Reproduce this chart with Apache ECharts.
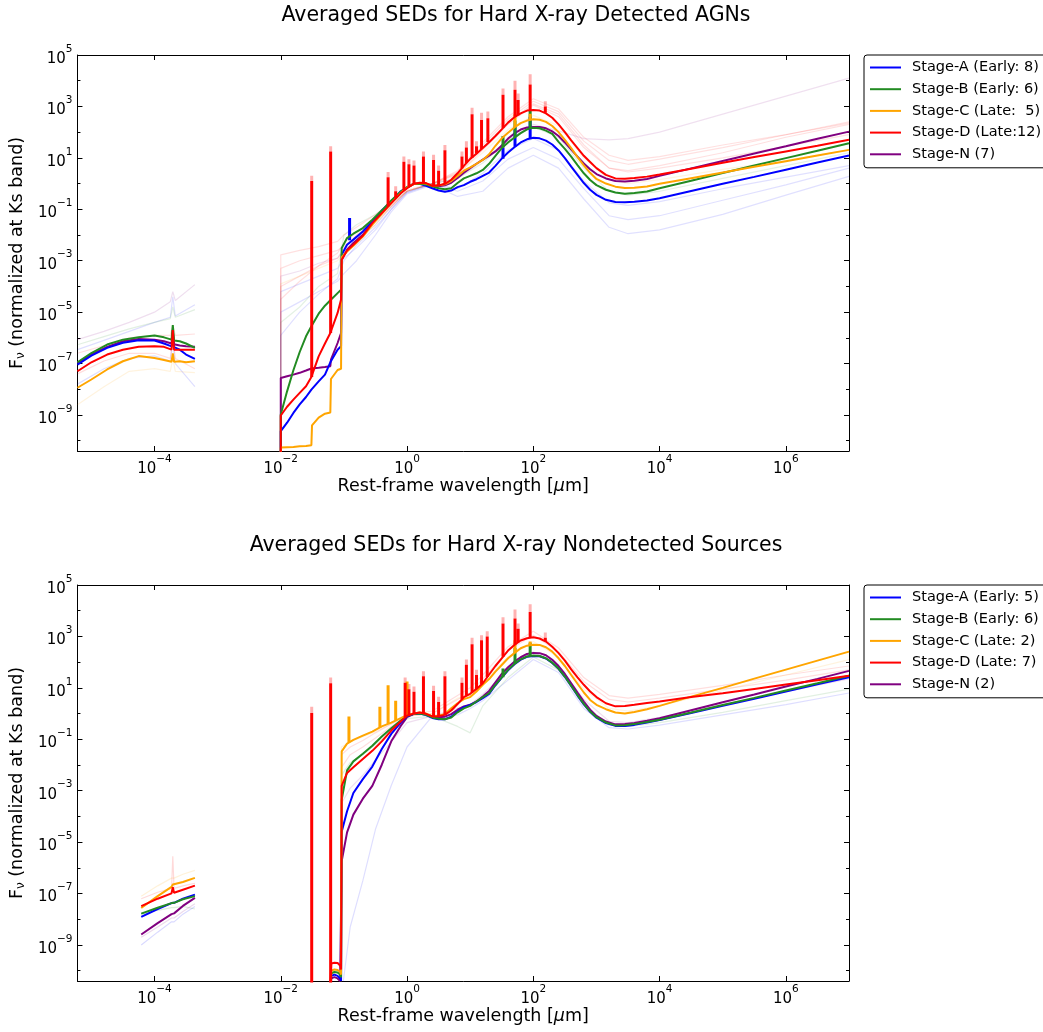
<!DOCTYPE html>
<html><head><meta charset="utf-8">
<script src="https://cdn.jsdelivr.net/npm/echarts@6/dist/echarts.min.js"></script>
<style>html,body{margin:0;padding:0;background:#fff}#c{width:1043px;height:1032px}</style>
</head><body><div id="c"></div>
<script>
// ---------- axis ticks (log10 exponents) ----------
const xTickValues = [-4, -2, 0, 2, 4, 6];
const yMajorTicks = [-9, -7, -5, -3, -1, 1, 3, 5];
const yMinorTicks = [-10, -8, -6, -4, -2, 0, 2, 4];

// ---------- names ----------
const namesTop = ['Stage-A (Early: 8)', 'Stage-B (Early: 6)', 'Stage-C (Late:  5)', 'Stage-D (Late:12)', 'Stage-N (7)'];
const namesBot = ['Stage-A (Early: 5)', 'Stage-B (Early: 6)', 'Stage-C (Late: 2)', 'Stage-D (Late: 7)', 'Stage-N (2)'];
const stageColors = ['#0000ff', '#228b22', '#ffa500', '#ff0000', '#800080'];

// ---------- wavelength grids (log10 of micron) ----------
const xrayLamTop = [-5.22, -5.0, -4.75, -4.5, -4.25, -4.0, -3.85, -3.73, -3.71, -3.69, -3.6, -3.5, -3.36];
const xrayLamBot = [-4.21, -3.95, -3.73, -3.71, -3.69, -3.55, -3.36];
const uvLamTop = [-2.0, -2.0, -1.9, -1.8, -1.7, -1.6, -1.515, -1.505, -1.4, -1.3, -1.215, -1.205, -1.1, -1.045, -1.035, -0.95, -0.85, -0.7, -0.55, -0.4, -0.25, -0.1, 0.0];
const uvLamBot = [-1.22, -1.2, -1.15, -1.1, -1.06, -1.045, -1.035, -0.95, -0.85, -0.7, -0.55, -0.4, -0.25, -0.1, 0.0];
const irLam = [0.1, 0.2, 0.3, 0.4, 0.5, 0.6, 0.7, 0.8, 0.9, 1.0, 1.1, 1.2, 1.3, 1.4, 1.5, 1.6, 1.7, 1.8, 1.9, 2.0, 2.1, 2.2, 2.3, 2.4, 2.5, 2.6, 2.7, 2.8, 2.9, 3.0, 3.15, 3.3, 3.45, 3.6, 3.8, 4.0, 4.5, 5.0, 5.5, 6.0, 6.5, 7.0];

// ---------- TOP panel: averaged SEDs (log10 F_nu) ----------
const topA_xray = [-7.04, -6.69, -6.39, -6.19, -6.09, -6.1, -6.22, -6.33, -5.9, -6.36, -6.46, -6.65, -6.82];
const topB_xray = [-6.95, -6.59, -6.26, -6.07, -5.98, -5.91, -5.98, -6.07, -5.5, -6.1, -6.13, -6.22, -6.39];
const topC_xray = [-7.94, -7.62, -7.23, -6.91, -6.71, -6.78, -6.86, -6.93, -6.6, -6.93, -6.91, -6.95, -6.91];
const topD_xray = [-7.3, -6.95, -6.65, -6.46, -6.35, -6.33, -6.35, -6.46, -5.7, -6.46, -6.46, -6.46, -6.46];
const topN_xray = [-6.97, -6.65, -6.35, -6.13, -6.04, -6.07, -6.13, -6.22, -5.7, -6.25, -6.3, -6.33, -6.35];

const topA_uv = [-11, -9.63, -9.3, -8.92, -8.59, -8.3, -8.01, -8.01, -7.69, -7.43, -6.95, -6.91, -6.46, -6.33, -2.77, -2.38, -2.18, -1.86, -1.47, -1.05, -0.7, -0.3, -0.15];
const topB_uv = [-11, -8.98, -8.08, -7.26, -6.55, -5.94, -5.55, -5.55, -5.06, -4.75, -4.54, -4.54, -4.26, -4.13, -2.51, -2.12, -1.95, -1.73, -1.41, -1.05, -0.66, -0.32, -0.14];
const topC_uv = [-11, -10.26, -10.25, -10.24, -10.22, -10.21, -10.18, -9.4, -9.1, -8.95, -8.9, -7.6, -7.25, -7.2, -2.86, -2.64, -2.42, -2.06, -1.6, -1.18, -0.76, -0.36, -0.16];
const topD_uv = [-11, -9.02, -8.68, -8.4, -8.14, -7.88, -7.52, -7.52, -6.72, -6.22, -5.81, -5.81, -5.03, -4.51, -2.96, -2.6, -2.38, -2.03, -1.54, -1.15, -0.76, -0.38, -0.18];
const topN_uv = [-11, -7.56, -7.49, -7.43, -7.36, -7.27, -7.19, -7.19, -7.16, -7.13, -7.1, -6.85, -6.2, -5.81, -2.96, -2.57, -2.31, -1.99, -1.51, -1.12, -0.74, -0.35, -0.16];

const topA_ir = [-0.01, -0.01, -0.09, -0.18, -0.27, -0.32, -0.27, -0.14, -0.06, 0.07, 0.17, 0.3, 0.43, 0.69, 0.97, 1.21, 1.41, 1.6, 1.72, 1.78, 1.76, 1.67, 1.52, 1.29, 0.99, 0.66, 0.34, 0.02, -0.24, -0.44, -0.63, -0.72, -0.73, -0.71, -0.66, -0.57, -0.29, -0.01, 0.26, 0.54, 0.82, 1.09];
const topB_ir = [-0.02, -0.01, -0.04, -0.11, -0.18, -0.22, -0.18, 0.02, 0.2, 0.3, 0.4, 0.53, 0.77, 1.08, 1.38, 1.6, 1.78, 1.96, 2.11, 2.17, 2.15, 2.06, 1.93, 1.62, 1.35, 1.05, 0.72, 0.4, 0.14, -0.06, -0.24, -0.35, -0.4, -0.37, -0.31, -0.18, 0.11, 0.41, 0.7, 0.99, 1.28, 1.57];
const topC_ir = [-0.02, 0.02, 0.0, -0.08, -0.07, -0.03, 0.1, 0.3, 0.5, 0.63, 0.77, 0.92, 1.14, 1.47, 1.76, 1.98, 2.18, 2.35, 2.45, 2.5, 2.48, 2.4, 2.24, 2.0, 1.7, 1.38, 1.03, 0.71, 0.42, 0.18, 0.0, -0.12, -0.17, -0.16, -0.11, -0.01, 0.21, 0.43, 0.65, 0.87, 1.09, 1.31];
const topD_ir = [-0.02, 0.03, 0.02, -0.09, -0.07, -0.01, 0.15, 0.4, 0.69, 0.96, 1.16, 1.38, 1.61, 1.85, 2.11, 2.37, 2.58, 2.73, 2.84, 2.86, 2.84, 2.73, 2.56, 2.3, 2.0, 1.68, 1.38, 1.08, 0.84, 0.6, 0.34, 0.2, 0.19, 0.22, 0.27, 0.35, 0.58, 0.81, 1.03, 1.25, 1.47, 1.7];
const topN_ir = [-0.02, 0.02, 0.0, -0.09, -0.1, -0.07, 0.03, 0.22, 0.42, 0.6, 0.77, 0.93, 1.09, 1.25, 1.48, 1.75, 1.95, 2.1, 2.18, 2.2, 2.2, 2.15, 2.03, 1.85, 1.6, 1.32, 1.05, 0.78, 0.56, 0.37, 0.2, 0.1, 0.08, 0.11, 0.18, 0.3, 0.59, 0.88, 1.17, 1.45, 1.74, 2.02];

// emission lines, top panel
const topD_lineLam  = [-1.51, -1.21, -0.30, -0.18, -0.05, 0.03, 0.11, 0.26, 0.42, 0.50, 0.60, 0.87, 0.94, 1.03, 1.10, 1.18, 1.28, 1.52, 1.71, 1.76, 1.95, 2.19];
const topD_lineBase = [-7.52, -5.81, -0.88, -0.55, -0.25, -0.1, -0.02, 0.03, -0.09, -0.07, -0.01, 0.6, 0.8, 1.0, 1.16, 1.34, 1.61, 2.16, 2.6, 2.66, 2.85, 2.75];
const topD_linePeak = [0.1, 1.25, 0.25, -0.3, 0.85, 0.75, 0.7, 1.05, 0.92, 0.5, 1.3, 1.05, 1.4, 2.7, 1.45, 2.47, 2.54, 3.45, 3.65, 3.25, 3.85, 3.0];
const topD_lineTip  = [0.3, 1.45, 0.45, -0.1, 1.05, 0.95, 0.9, 1.25, 1.12, 0.7, 1.5, 1.25, 1.65, 2.95, 1.65, 2.75, 2.8, 3.7, 4.0, 3.5, 4.25, 3.2];
const topA_lineLam = [-0.91, 1.52, 1.71, 1.95];
const topA_lineBase = [-2.2, 0.97, 1.43, 1.75];
const topA_linePeak = [-1.34, 1.4, 2.2, 2.6];
const topB_lineLam = [1.52, 1.71, 1.95];
const topB_lineBase = [1.4, 1.8, 2.14];
const topB_linePeak = [1.85, 2.45, 2.85];
const topC_lineLam = [1.71, 1.95];
const topC_lineBase = [2.2, 2.48];
const topC_linePeak = [2.7, 2.72];

// ---------- BOTTOM panel ----------
const botA_xray = [-7.91, -7.6, -7.37, -7.3, -7.36, -7.2, -7.04];
const botB_xray = [-7.78, -7.55, -7.37, -7.3, -7.36, -7.22, -7.1];
const botC_xray = [-7.56, -7.1, -6.74, -6.65, -6.72, -6.55, -6.39];
const botD_xray = [-7.49, -7.2, -6.99, -6.75, -6.97, -6.85, -6.69];
const botN_xray = [-8.59, -8.15, -7.8, -7.75, -7.77, -7.48, -7.17];

const botA_uv = [-11, -10.2, -10.15, -10.2, -10.3, -10.4, -4.6, -3.8, -3.09, -2.55, -2.06, -1.38, -0.79, -0.35, -0.1];
const botB_uv = [-11, -10.1, -10.05, -10.07, -10.15, -10.25, -3.35, -2.21, -1.86, -1.56, -1.25, -0.89, -0.57, -0.27, -0.08];
const botC_uv = [-11, -10.0, -9.95, -9.97, -10.05, -10.15, -1.47, -1.17, -1.02, -0.86, -0.7, -0.5, -0.35, -0.18, -0.06];
const botD_uv = [-11, -9.72, -9.69, -9.7, -9.8, -9.95, -2.81, -2.31, -2.09, -1.77, -1.45, -1.08, -0.66, -0.31, -0.08];
const botN_uv = [-11, -10.3, -10.25, -10.3, -10.4, -10.45, -5.74, -4.62, -3.93, -3.31, -2.81, -1.99, -1.08, -0.48, -0.14];

const botA_ir = [-0.02, 0.0, -0.06, -0.17, -0.22, -0.22, -0.12, 0.08, 0.25, 0.34, 0.45, 0.6, 0.76, 1.1, 1.4, 1.68, 1.92, 2.1, 2.21, 2.24, 2.23, 2.14, 1.97, 1.74, 1.43, 1.07, 0.7, 0.36, 0.07, -0.16, -0.37, -0.48, -0.48, -0.44, -0.35, -0.25, 0.02, 0.3, 0.58, 0.86, 1.14, 1.41];
const botB_ir = [-0.02, 0.0, -0.05, -0.15, -0.2, -0.22, -0.15, 0.05, 0.2, 0.3, 0.47, 0.64, 0.79, 1.12, 1.41, 1.7, 1.93, 2.11, 2.22, 2.26, 2.24, 2.15, 1.98, 1.75, 1.44, 1.08, 0.72, 0.38, 0.08, -0.14, -0.35, -0.46, -0.45, -0.41, -0.33, -0.24, 0.04, 0.33, 0.61, 0.9, 1.18, 1.47];
const botC_ir = [0.0, 0.04, 0.0, -0.1, -0.08, -0.02, 0.21, 0.4, 0.56, 0.64, 0.86, 1.12, 1.34, 1.63, 1.89, 2.15, 2.35, 2.54, 2.64, 2.68, 2.67, 2.58, 2.41, 2.15, 1.85, 1.5, 1.16, 0.82, 0.53, 0.34, 0.17, 0.04, 0.0, 0.06, 0.17, 0.3, 0.66, 1.0, 1.36, 1.71, 2.06, 2.41];
const botD_ir = [-0.01, 0.04, -0.01, -0.11, -0.1, -0.05, 0.12, 0.37, 0.64, 0.77, 0.96, 1.18, 1.52, 1.85, 2.15, 2.45, 2.67, 2.84, 2.93, 2.97, 2.92, 2.8, 2.6, 2.35, 2.06, 1.72, 1.41, 1.12, 0.86, 0.64, 0.4, 0.28, 0.29, 0.34, 0.41, 0.47, 0.64, 0.79, 0.96, 1.13, 1.3, 1.47];
const botN_ir = [-0.02, 0.02, -0.02, -0.12, -0.14, -0.12, -0.02, 0.15, 0.28, 0.34, 0.47, 0.66, 0.88, 1.21, 1.54, 1.8, 2.02, 2.19, 2.32, 2.36, 2.35, 2.27, 2.09, 1.85, 1.54, 1.18, 0.82, 0.47, 0.15, -0.09, -0.31, -0.42, -0.41, -0.37, -0.28, -0.18, 0.13, 0.44, 0.74, 1.05, 1.35, 1.66];

const botD_lineLam  = [-1.51, -1.21, -0.03, 0.03, 0.11, 0.26, 0.42, 0.50, 0.60, 0.87, 0.94, 1.03, 1.10, 1.18, 1.27, 1.52, 1.71, 1.76, 1.95, 2.19];
const botD_lineBase = [-11, -11, -0.14, -0.08, -0.01, 0.01, -0.11, -0.1, -0.05, 0.56, 0.69, 0.83, 0.96, 1.14, 1.42, 2.21, 2.69, 2.77, 2.95, 2.81];
const botD_linePeak = [0.02, 1.18, 1.2, 0.95, 0.85, 1.45, 0.88, 0.45, 1.45, 1.2, 1.9, 2.7, 1.5, 2.85, 3.0, 3.5, 3.7, 3.3, 3.95, 2.95];
const botD_lineTip  = [0.27, 1.4, 1.4, 1.15, 1.05, 1.65, 1.08, 0.65, 1.65, 1.4, 2.1, 2.95, 1.7, 3.05, 3.2, 3.75, 4.05, 3.5, 4.25, 3.15];
const botB_lineLam = [1.52, 1.71, 1.95];
const botB_lineBase = [1.41, 1.93, 2.24];
const botB_linePeak = [1.75, 2.55, 2.75];
const botC_lineLam = [-0.92, -0.43, -0.30, -0.18, 0.0, 1.71, 1.95];
const botC_lineBase = [-1.12, -0.55, -0.4, -0.27, -0.09, 2.37, 2.66];
const botC_linePeak = [-0.11, 0.27, 1.1, 0.5, 1.25, 2.85, 2.8];

// ---------- individual (faint) SEDs ----------
const faintXrayLamTop = [-5.22, -4.8, -4.4, -4.0, -3.75, -3.71, -3.67, -3.36];
const faintXrayTop1 = [-6.07, -5.75, -5.4, -5.0, -4.6, -4.2, -4.55, -3.93];
const faintXrayTop2 = [-6.46, -6.1, -5.75, -5.4, -5.2, -4.4, -5.15, -4.71];
const faintXrayTop3 = [-6.27, -5.95, -5.65, -5.4, -5.25, -4.8, -5.2, -4.9];
const faintXrayTop4 = [-7.4, -6.9, -6.6, -6.6, -6.8, -6.0, -6.8, -7.2];
const faintXrayTop5 = [-8.6, -7.9, -7.3, -7.2, -7.3, -6.8, -7.3, -7.35];
const faintXrayTop6 = [-7.8, -7.2, -6.8, -6.7, -6.9, -6.2, -7.0, -7.9];
const faintXrayTop7 = [-6.6, -6.3, -6.0, -5.9, -5.9, -5.5, -5.9, -5.85];
const faintXrayTopColors = ['#800080', '#0000ff', '#228b22', '#ff0000', '#ffa500', '#0000ff', '#ff0000'];

const faintLamTop = [-2.0, -2.0, -1.7, -1.4, -1.1, -1.0, -0.8, -0.5, -0.25, 0.0, 0.4, 0.8, 1.2, 1.6, 2.0, 2.4, 2.8, 3.2, 3.5, 4.0, 5.0, 6.0, 7.0];
const faintTop1 = [-11, -2.77, -2.6, -2.45, -2.25, -2.0, -1.7, -1.2, -0.7, -0.25, 0.0, 0.5, 1.6, 2.6, 3.3, 2.9, 1.8, 1.1, 0.9, 1.05, 1.5, 1.9, 2.35];
const faintTop2 = [-11, -4.5, -3.8, -3.2, -2.7, -2.3, -1.9, -1.35, -0.8, -0.3, 0.0, 0.35, 1.3, 2.3, 3.05, 2.6, 1.4, 0.6, 0.45, 0.6, 1.0, 1.45, 1.9];
const faintTop3 = [-11, -3.3, -3.0, -2.8, -2.6, -2.4, -2.1, -1.5, -0.9, -0.3, 0.0, 0.4, 1.4, 2.4, 3.1, 2.7, 1.5, 0.6, 0.5, 0.7, 1.2, 1.8, 2.3];
const faintTop4 = [-11, -3.6, -3.4, -3.1, -2.9, -2.6, -2.2, -1.6, -0.9, -0.3, 0.0, 0.2, 0.9, 1.7, 2.3, 2.05, 1.75, 1.7, 1.75, 2.0, 2.7, 3.4, 4.1];
const faintTop5 = [-11, -5.0, -4.6, -4.2, -3.8, -3.5, -3.0, -2.0, -1.1, -0.4, -0.05, -0.5, -0.3, 0.6, 1.1, 0.6, -0.6, -1.7, -1.95, -1.8, -1.2, -0.45, 0.28];
const faintTop6 = [-11, -4.2, -3.9, -3.6, -3.3, -2.9, -2.5, -1.8, -1.0, -0.35, 0.0, -0.3, 0.1, 0.95, 1.4, 0.95, -0.2, -1.25, -1.4, -1.25, -0.65, -0.05, 0.6];
const faintTop7 = [-11, -5.4, -4.8, -4.0, -3.5, -2.0, -1.6, -1.2, -0.75, -0.3, 0.0, 0.2, 0.8, 1.7, 2.2, 1.8, 0.6, -0.3, -0.45, -0.3, 0.2, 0.7, 1.2];
const faintTop8 = [-11, -3.9, -3.6, -3.3, -3.0, -2.7, -2.3, -1.6, -0.9, -0.3, 0.0, 0.4, 1.2, 2.1, 2.65, 2.25, 1.0, 0.15, 0.0, 0.15, 0.55, 0.9, 1.3];
const faintTop9 = [-11, -5.9, -5.0, -4.3, -3.7, -3.0, -2.4, -1.7, -1.0, -0.35, 0.0, -0.2, 0.4, 1.3, 1.75, 1.3, 0.1, -0.75, -0.85, -0.7, -0.2, 0.25, 0.7];
const faintTop10 = [-11, -4.0, -3.6, -3.2, -2.9, -2.5, -2.0, -1.4, -0.85, -0.3, 0.0, 0.45, 1.5, 2.5, 3.2, 2.8, 1.65, 0.9, 0.75, 0.95, 1.4, 1.9, 2.4];
const faintTopColors = ['#ff0000', '#ff0000', '#ff0000', '#800080', '#0000ff', '#0000ff', '#228b22', '#ffa500', '#0000ff', '#ff0000'];

const faintXrayLamBot = [-4.21, -3.95, -3.73, -3.71, -3.69, -3.55, -3.36];
const faintXrayBot1 = [-7.1, -6.7, -6.4, -6.35, -6.4, -6.25, -6.1];
const faintXrayBot2 = [-7.2, -6.95, -6.8, -5.55, -6.8, -6.7, -6.6];
const faintXrayBot3 = [-7.8, -7.65, -7.55, -7.55, -7.55, -7.5, -7.6];
const faintXrayBot4 = [-9.0, -8.5, -8.1, -8.1, -8.1, -7.8, -7.5];
const faintXrayBot5 = [-8.7, -8.3, -7.95, -7.95, -7.95, -7.7, -7.4];
const faintXrayBotColors = ['#ffa500', '#ff0000', '#228b22', '#0000ff', '#800080'];

const faintLamBot = [-1.04, -1.04, -0.9, -0.7, -0.5, -0.25, 0.0, 0.4, 0.8, 1.0, 1.2, 1.6, 2.0, 2.4, 2.8, 3.2, 3.5, 4.0, 5.0, 6.0, 7.0];
const faintBot1 = [-11, -1.6, -1.3, -1.05, -0.75, -0.4, -0.05, 0.1, 0.7, 1.0, 1.5, 2.6, 3.2, 2.55, 1.4, 0.7, 0.6, 0.75, 1.1, 1.5, 1.85];
const faintBot2 = [-11, -2.1, -1.6, -1.3, -0.95, -0.5, -0.1, 0.0, 0.55, 0.8, 1.35, 2.45, 3.05, 2.4, 1.25, 0.55, 0.45, 0.6, 0.95, 1.3, 1.7];
const faintBot3 = [-11, -11, -8.3, -6.5, -4.5, -2.8, -1.3, -0.1, -0.05, 0.2, 0.5, 1.3, 2.1, 1.6, 0.2, -0.55, -0.6, -0.45, -0.05, 0.35, 0.8];
const faintBot4 = [-11, -2.4, -1.9, -1.6, -1.2, -0.7, -0.2, -0.1, -0.5, -0.75, 0.3, 1.4, 2.2, 1.7, 0.35, -0.45, -0.5, -0.35, 0.05, 0.5, 0.95];
const faintBot5 = [-11, -3.5, -2.9, -2.4, -1.8, -1.1, -0.35, -0.1, 0.2, 0.35, 0.75, 1.7, 2.4, 1.85, 0.55, -0.3, -0.35, -0.15, 0.35, 0.85, 1.35];
const faintBot6 = [-11, -1.3, -1.1, -0.9, -0.7, -0.4, -0.1, 0.0, 0.6, 0.7, 1.2, 2.2, 2.8, 2.2, 0.95, 0.2, 0.1, 0.3, 0.9, 1.5, 2.1];
const faintBotColors = ['#ff0000', '#ff0000', '#0000ff', '#228b22', '#800080', '#ffa500'];

// ---------- helpers ----------
const FONT = 'DejaVu Sans';
function pts(lam, val) { return lam.map((x, i) => [x, val[i]]); }
function spikePts(lam, base, peak) {
  const d = [];
  lam.forEach((x, i) => { d.push([x, base[i]], [x, peak[i]], [x, null]); });
  return d;
}
function line(name, data, color, width, xi, yi, opacity, z) {
  return {
    type: 'line', name: name, data: data, xAxisIndex: xi, yAxisIndex: yi,
    symbol: 'none', showSymbol: false, clip: true, connectNulls: false,
    lineStyle: { color: color, width: width, opacity: opacity },
    itemStyle: { color: color }, emphasis: { disabled: true }, silent: true,
    z: z, animation: false
  };
}
function supLabel(v) {
  const e = Math.round(v);
  const s = e < 0 ? '\u2212' + (-e) : String(e);
  return '{b|10}{s|' + s + '}';
}
const labelRich = {
  b: { fontSize: 15, fontFamily: FONT, color: '#000', lineHeight: 23, verticalAlign: 'bottom' },
  s: { fontSize: 10.5, fontFamily: FONT, color: '#000', lineHeight: 10, verticalAlign: 'top' }
};
const frame = { show: true, onZero: false, lineStyle: { color: '#000', width: 1 } };
const noLine = { show: false, onZero: false };

function makeAxes(gi) {
  const xs = [
    { type: 'value', gridIndex: gi, position: 'bottom', min: -5.22, max: 7,
      axisLine: frame, splitLine: { show: false },
      axisTick: { show: true, inside: true, length: 5, customValues: xTickValues, lineStyle: { color: '#000' } },
      axisLabel: { show: true, customValues: xTickValues, margin: 3, formatter: supLabel, rich: labelRich },
      name: 'Rest-frame wavelength [{i|\u03bc}m]', nameLocation: 'middle', nameGap: 26,
      nameTextStyle: { fontSize: 17.5, fontFamily: FONT, color: '#000',
        rich: { i: { fontSize: 17.5, fontFamily: FONT, fontStyle: 'italic', color: '#000' } } } },
    { type: 'value', gridIndex: gi, position: 'top', min: -5.22, max: 7,
      axisLine: frame, splitLine: { show: false },
      axisTick: { show: true, inside: true, length: 5, customValues: xTickValues, lineStyle: { color: '#000' } },
      axisLabel: { show: false } }
  ];
  const ys = [];
  [['left', yMajorTicks, 5, true], ['right', yMajorTicks, 5, false], ['left', yMinorTicks, 3, false], ['right', yMinorTicks, 3, false]].forEach(function (c, k) {
    const ax = { type: 'value', gridIndex: gi, position: c[0], min: -10.4, max: 5,
      axisLine: k < 2 ? frame : noLine, splitLine: { show: false },
      axisTick: { show: true, inside: true, length: c[2], customValues: c[1], lineStyle: { color: '#000' } },
      axisLabel: c[3] ? { show: true, customValues: yMajorTicks, margin: 5, formatter: supLabel, rich: labelRich } : { show: false } };
    if (c[3]) {
      ax.name = 'F{sub|\u03bd} (normalized at Ks band)';
      ax.nameLocation = 'middle';
      ax.nameGap = 45;
      ax.nameTextStyle = { fontSize: 17.5, fontFamily: FONT, color: '#000',
        rich: { sub: { fontSize: 12, fontFamily: FONT, color: '#000', padding: [8, 0, 0, 0] } } };
    }
    ys.push(ax);
  });
  return { xs: xs, ys: ys };
}
const axTop = makeAxes(0), axBot = makeAxes(1);

// ---------- series ----------
const series = [];
[faintXrayTop1, faintXrayTop2, faintXrayTop3, faintXrayTop4, faintXrayTop5, faintXrayTop6, faintXrayTop7].forEach(function (v, i) {
  series.push(line('faint', pts(faintXrayLamTop, v), faintXrayTopColors[i], 1.2, 0, 0, 0.13, 1));
});
[faintTop1, faintTop2, faintTop3, faintTop4, faintTop5, faintTop6, faintTop7, faintTop8, faintTop9, faintTop10].forEach(function (v, i) {
  series.push(line('faint', pts(faintLamTop, v), faintTopColors[i], 1.2, 0, 0, 0.12, 1));
});
[faintXrayBot1, faintXrayBot2, faintXrayBot3, faintXrayBot4, faintXrayBot5].forEach(function (v, i) {
  series.push(line('faint', pts(faintXrayLamBot, v), faintXrayBotColors[i], 1.2, 2, 4, 0.15, 1));
});
[faintBot1, faintBot2, faintBot3, faintBot4, faintBot5, faintBot6].forEach(function (v, i) {
  series.push(line('faint', pts(faintLamBot, v), faintBotColors[i], 1.2, 2, 4, 0.13, 1));
});
// faint pink tips of the strongest lines
series.push(line('tips', spikePts(topD_lineLam, topD_linePeak, topD_lineTip), '#ff0000', 3, 0, 0, 0.3, 2));
series.push(line('tips', spikePts(botD_lineLam, botD_linePeak, botD_lineTip), '#ff0000', 3, 2, 4, 0.3, 2));

const topMain = [
  [4, topN_xray, topN_uv, topN_ir, null],
  [0, topA_xray, topA_uv, topA_ir, [topA_lineLam, topA_lineBase, topA_linePeak]],
  [1, topB_xray, topB_uv, topB_ir, [topB_lineLam, topB_lineBase, topB_linePeak]],
  [2, topC_xray, topC_uv, topC_ir, [topC_lineLam, topC_lineBase, topC_linePeak]],
  [3, topD_xray, topD_uv, topD_ir, [topD_lineLam, topD_lineBase, topD_linePeak]]
];
const botMain = [
  [4, botN_xray, botN_uv, botN_ir, null],
  [0, botA_xray, botA_uv, botA_ir, null],
  [1, botB_xray, botB_uv, botB_ir, [botB_lineLam, botB_lineBase, botB_linePeak]],
  [2, botC_xray, botC_uv, botC_ir, [botC_lineLam, botC_lineBase, botC_linePeak]],
  [3, botD_xray, botD_uv, botD_ir, [botD_lineLam, botD_lineBase, botD_linePeak]]
];
topMain.forEach(function (m, k) {
  const c = stageColors[m[0]], nm = namesTop[m[0]], z = 3 + k;
  series.push(line(nm, pts(uvLamTop.concat(irLam), m[2].concat(m[3])), c, 2, 0, 0, 1, z));
  series.push(line(nm, pts(xrayLamTop, m[1]), c, 2, 0, 0, 1, z));
  if (m[4]) series.push(line(nm, spikePts(m[4][0], m[4][1], m[4][2]), c, 3, 0, 0, 1, z));
});
botMain.forEach(function (m, k) {
  const c = stageColors[m[0]], nm = namesBot[m[0]], z = 3 + k;
  series.push(line(nm, pts(uvLamBot.concat(irLam), m[2].concat(m[3])), c, 2, 2, 4, 1, z));
  series.push(line(nm, pts(xrayLamBot, m[1]), c, 2, 2, 4, 1, z));
  if (m[4]) series.push(line(nm, spikePts(m[4][0], m[4][1], m[4][2]), c, 3, 2, 4, 1, z));
});

function legendCfg(top, names) {
  return {
    orient: 'vertical', left: 864, top: top, data: names, selectedMode: false,
    itemWidth: 31, itemHeight: 14, itemGap: 6.7, padding: [5, 14, 6, 5],
    itemStyle: { opacity: 0 },
    borderColor: '#000', borderWidth: 1, borderRadius: 3, backgroundColor: '#fff',
    textStyle: { fontSize: 14.5, fontFamily: FONT, color: '#000', padding: [0, 0, 0, 6] }
  };
}

const option = {
  animation: false,
  textStyle: { fontFamily: FONT },
  title: [
    { text: 'Averaged SEDs for Hard X-ray Detected AGNs', left: 511, textAlign: 'center', top: 0,
      textStyle: { fontSize: 20.5, fontWeight: 'normal', fontFamily: FONT, color: '#000' } },
    { text: 'Averaged SEDs for Hard X-ray Nondetected Sources', left: 511, textAlign: 'center', top: 530,
      textStyle: { fontSize: 20.5, fontWeight: 'normal', fontFamily: FONT, color: '#000' } }
  ],
  legend: [legendCfg(55, namesTop), legendCfg(585, namesBot)],
  grid: [
    { left: 74, right: 194, top: 55, height: 396 },
    { left: 74, right: 194, top: 585, height: 396 }
  ],
  xAxis: axTop.xs.concat(axBot.xs),
  yAxis: axTop.ys.concat(axBot.ys),
  series: series
};
const chart = echarts.init(document.getElementById('c'), null, { renderer: 'canvas' });
chart.setOption(option);
</script>
</body></html>
